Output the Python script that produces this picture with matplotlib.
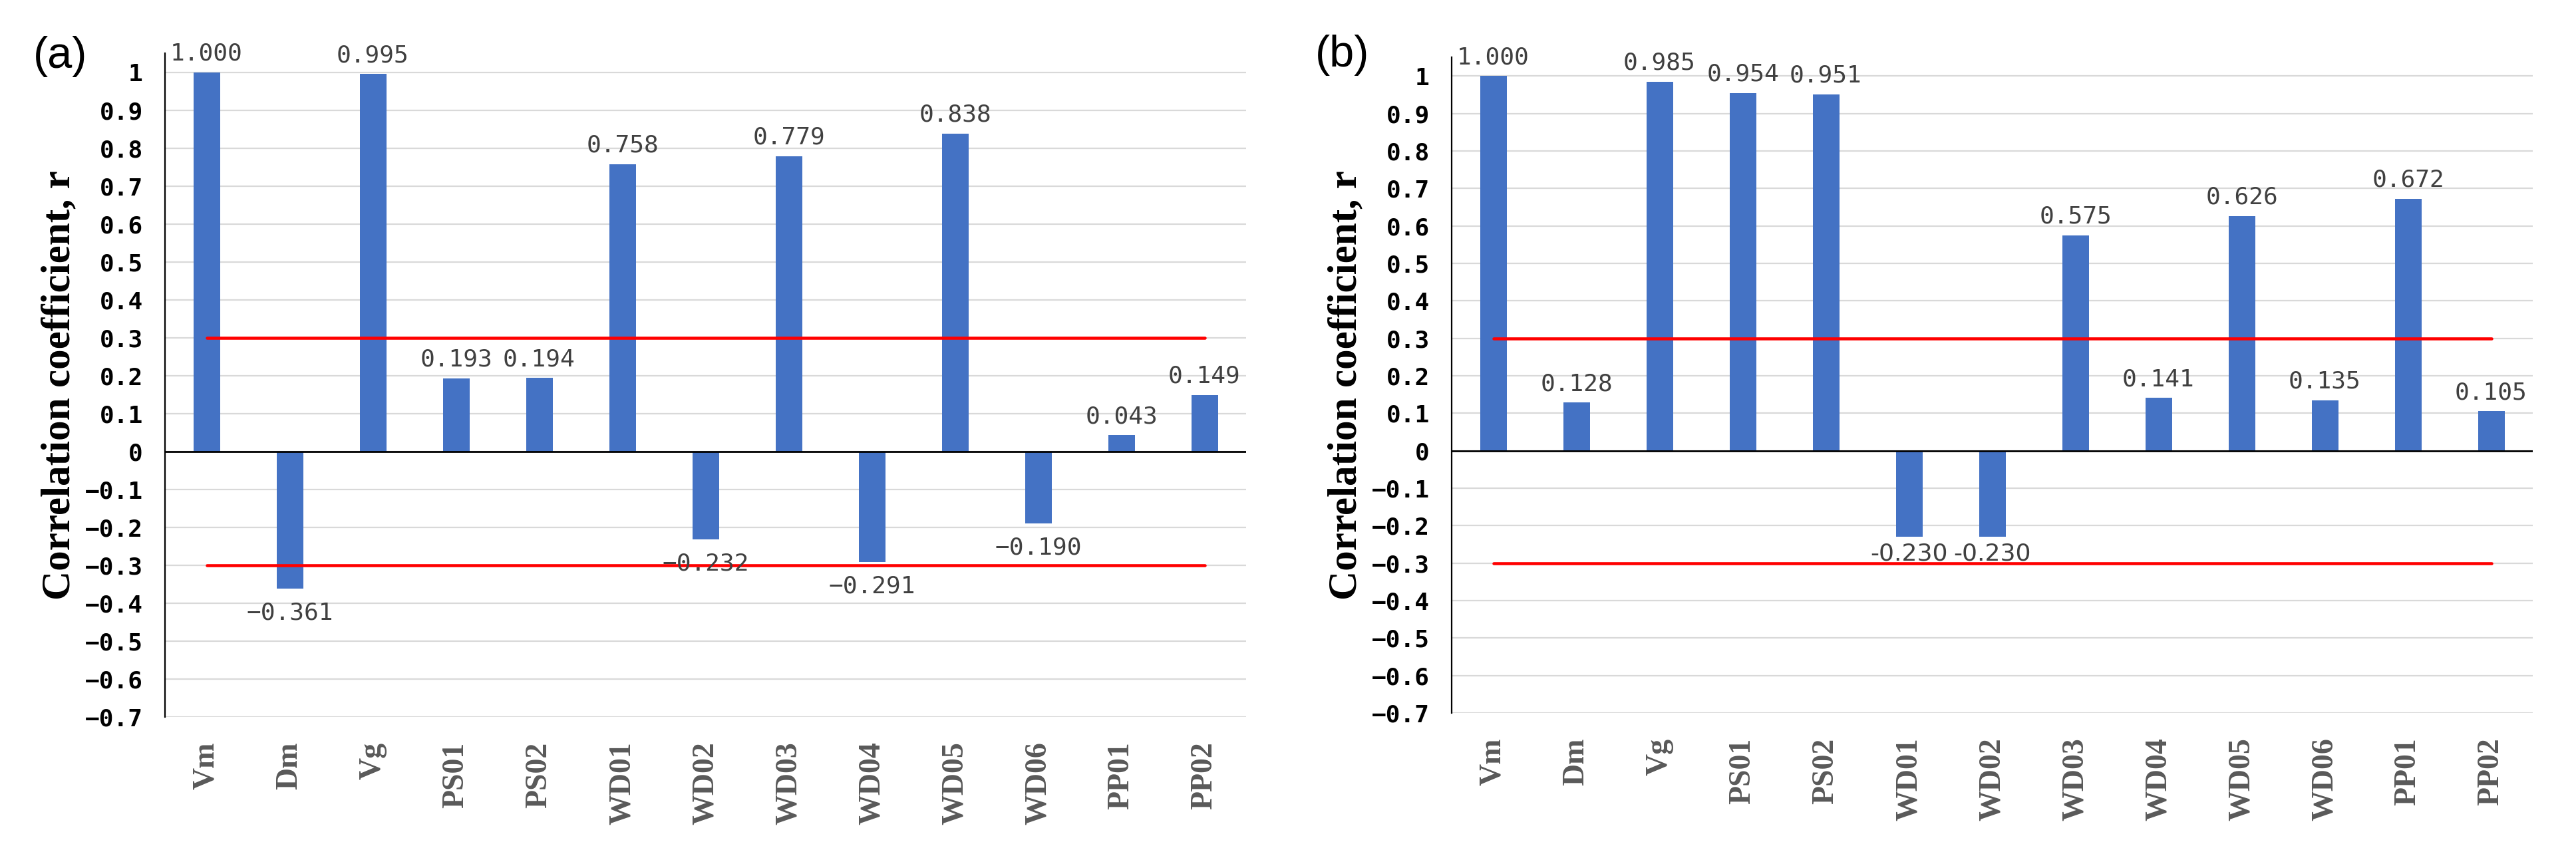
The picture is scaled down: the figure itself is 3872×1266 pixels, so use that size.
import matplotlib.pyplot as plt
from matplotlib import font_manager

# data
categories = ["Vm", "Dm", "Vg", "PS01", "PS02", "WD01", "WD02",
              "WD03", "WD04", "WD05", "WD06", "PP01", "PP02"]
r_a = [1.000, -0.361, 0.995, 0.193, 0.194, 0.758, -0.232,
       0.779, -0.291, 0.838, -0.190, 0.043, 0.149]
r_b = [1.000, 0.128, 0.985, 0.954, 0.951, -0.230, -0.230,
       0.575, 0.141, 0.626, 0.135, 0.672, 0.105]
threshold = 0.3
y_ticks = [1, 0.9, 0.8, 0.7, 0.6, 0.5, 0.4, 0.3, 0.2, 0.1, 0,
           -0.1, -0.2, -0.3, -0.4, -0.5, -0.6, -0.7]
panel_tags = ["(a)", "(b)"]
y_title = "Correlation coefficient, r"

W, H = 3873, 1266
fig = plt.figure(figsize=(W / 100, H / 100), dpi=100)

bar_color = "#4472C4"
mono = "DejaVu Sans Mono"
serif = "Liberation Serif"
installed = {f.name for f in font_manager.fontManager.ttflist}
narrow = "Liberation Sans Narrow" if "Liberation Sans Narrow" in installed else "DejaVu Sans"


def fmt(v, minus="\u2212"):
    return f"{v:.3f}".replace("-", minus)


def tick_fmt(v):
    if v == 0:
        return "0"
    if v == 1:
        return "1"
    return f"{v:.1f}".replace("-", "\u2212")


# axes boxes in pixels: left, top, right, bottom
boxes = [(248, 80, 1873, 1078), (2182, 86, 3807, 1072)]
tag_pos = [(91, 85), (2018, 83)]

for k, (vals, box) in enumerate(zip([r_a, r_b], boxes)):
    x0, y0, x1, y1 = box
    ax = fig.add_axes([x0 / W, 1 - y1 / H, (x1 - x0) / W, (y1 - y0) / H])
    xs = list(range(len(categories)))
    ax.bar(xs, vals, width=0.32, color=bar_color, zorder=2)
    ax.set_xlim(-0.5, len(categories) - 0.5)
    ax.set_ylim(-0.7, 1.05)

    ax.set_yticks(y_ticks)
    ax.set_yticklabels([tick_fmt(v) for v in y_ticks], family=mono,
                       fontweight="bold", fontsize=26, color="black")
    ax.set_xticks(xs)
    ax.set_xticklabels(categories, rotation=90, family=serif,
                       fontweight="bold", fontsize=33, color="#595959")
    ax.tick_params(axis="y", length=0, pad=24)
    ax.tick_params(axis="x", length=0, pad=27)

    ax.grid(axis="y", color="#d9d9d9", linewidth=1.6, zorder=0)
    ax.set_axisbelow(True)
    for side in ["top", "right", "bottom"]:
        ax.spines[side].set_visible(False)
    ax.spines["left"].set_linewidth(1.6)
    ax.spines["left"].set_color("black")
    ax.axhline(0, color="black", linewidth=2.0, zorder=3)

    # threshold lines
    ax.plot([xs[0], xs[-1]], [threshold, threshold], color="#ff0000",
            linewidth=3.3, solid_capstyle="round", zorder=4)
    ax.plot([xs[0], xs[-1]], [-threshold, -threshold], color="#ff0000",
            linewidth=3.3, solid_capstyle="round", zorder=4)

    for x, v in zip(xs, vals):
        if v >= 0:
            ax.annotate(fmt(v), (x, v), xytext=(0, 8), textcoords="offset points",
                        ha="center", va="bottom", family=mono, fontsize=26,
                        color="#404040", zorder=5)
        elif k == 1:
            # the two neighbouring labels in (b) are set in a narrow face
            ax.annotate(fmt(v, "-"), (x, v), xytext=(0, -6), textcoords="offset points",
                        ha="center", va="top", family=narrow, fontsize=26,
                        color="#404040", zorder=5)
        else:
            ax.annotate(fmt(v), (x, v), xytext=(0, -14), textcoords="offset points",
                        ha="center", va="top", family=mono, fontsize=26,
                        color="#404040", zorder=5)

    fig.text((x0 - 159) / W, 1 - ((y0 + y1) / 2) / H, y_title, rotation=90,
             ha="center", va="center", family=serif, fontweight="bold",
             fontsize=44, color="black")
    tx, ty = tag_pos[k]
    fig.text(tx / W, 1 - ty / H, panel_tags[k], ha="center", va="center",
             family="Liberation Sans", fontsize=48, color="black")

fig.savefig("out.png", dpi=100, facecolor="white")
